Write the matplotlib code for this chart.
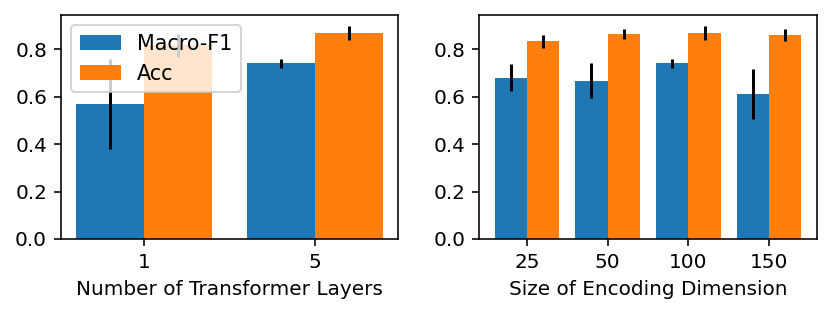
import numpy as np
import matplotlib.pyplot as plt
from matplotlib.ticker import MultipleLocator

layers = ['1', '5']
layers_f1 = [0.570, 0.741]
layers_f1_err = [0.19, 0.018]
layers_acc = [0.817, 0.870]
layers_acc_err = [0.049, 0.030]

dims = ['25', '50', '100', '150']
dims_f1 = [0.681, 0.668, 0.741, 0.612]
dims_f1_err = [0.058, 0.074, 0.018, 0.107]
dims_acc = [0.834, 0.865, 0.870, 0.859]
dims_acc_err = [0.028, 0.021, 0.030, 0.025]

dpi = 144
fig = plt.figure(figsize=(830 / dpi, 317 / dpi), dpi=dpi)
ax1 = fig.add_axes([61 / 830, 78 / 317, 337 / 830, 224 / 317])
ax2 = fig.add_axes([479.3 / 830, 78 / 317, 337.4 / 830, 224 / 317])

w = 0.4
x = np.arange(len(layers))
ax1.bar(x, layers_f1, w, yerr=layers_f1_err, label='Macro-F1')
ax1.bar(x + w, layers_acc, w, yerr=layers_acc_err, label='Acc')
ax1.set_xticks(x + w / 2)
ax1.set_xticklabels(layers)
ax1.set_xlabel('Number of Transformer Layers')
ax1.legend(loc='upper left', fontsize=10.3)

x = np.arange(len(dims))
ax2.bar(x, dims_f1, w, yerr=dims_f1_err, label='Macro-F1')
ax2.bar(x + w, dims_acc, w, yerr=dims_acc_err, label='Acc')
ax2.set_xticks(x + w / 2)
ax2.set_xticklabels(dims)
ax2.set_xlabel('Size of Encoding Dimension')

for ax in (ax1, ax2):
    ax.yaxis.set_major_locator(MultipleLocator(0.2))

fig.savefig('out.png', dpi=dpi)
